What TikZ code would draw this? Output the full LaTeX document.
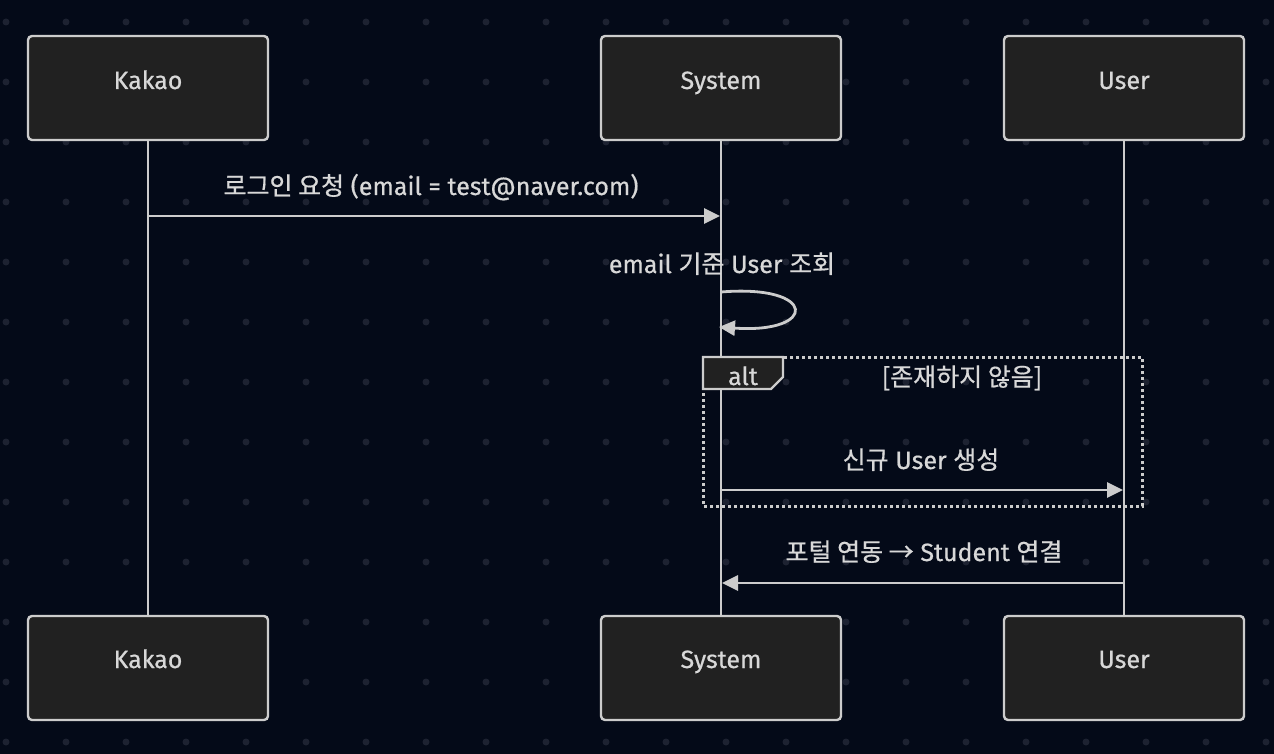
\documentclass[tikz,border=0pt]{standalone}
\usepackage{fontspec}
\setmainfont{Fira Sans}[FakeBold=0.6]
\newfontfamily\kr{Noto Sans CJK KR}[FakeBold=0.6]
\usetikzlibrary{arrows.meta}
\definecolor{bg}{HTML}{040A18}
\definecolor{dotc}{HTML}{1D2231}
\definecolor{boxfill}{HTML}{212121}
\definecolor{linec}{HTML}{CCCCCC}
\definecolor{txt}{HTML}{D8D8D8}
\begin{document}
\begin{tikzpicture}[x=1pt,y=-1pt,
  actor/.style={draw=linec,fill=boxfill,line width=2.4pt,rounded corners=4pt,minimum width=240pt,minimum height=104pt,inner sep=0pt},
  atext/.style={text=txt,font=\fontsize{25}{28}\selectfont,inner sep=0pt,anchor=base},
  life/.style={draw=linec,line width=2.8pt},
  msg/.style={draw=linec,line width=2.8pt,-{Triangle[length=16pt,width=15pt]}},
  lbl/.style={text=txt,font=\fontsize{25}{28}\selectfont,inner sep=0pt,anchor=base}]
\useasboundingbox (0,0) rectangle (1274,754);
\fill[bg] (0,0) rectangle (1274,754);
\foreach \i in {0,...,21} \foreach \j in {0,...,12} \fill[dotc] (6+60*\i,22+60*\j) circle (3.5pt);
% actors
\node[actor] (kt) at (148,88) {};
\node[actor] (st) at (721,88) {};
\node[actor] (ut) at (1124,88) {};
\node[actor] (kb) at (148,668) {};
\node[actor] (sb) at (721,668) {};
\node[actor] (ub) at (1124,668) {};
\node[atext] (ktt) at (148,89) {Kakao};
\node[atext] (stt) at (721,89) {System};
\node[atext] (utt) at (1124,89) {User};
\node[atext] (kbt) at (148,668) {Kakao};
\node[atext] (sbt) at (721,668) {System};
\node[atext] (ubt) at (1124,668) {User};
\draw[life] (kt) -- (kb);
\draw[life] (st) -- (sb);
\draw[life] (ut) -- (ub);
% message 1
\coordinate (m1a) at (148,216);
\coordinate (m1b) at (720,216);
\draw[msg] (m1a) -- (m1b);
\node[lbl] (l1) at (431,195) {{\kr 로그인 요청} (email = test@naver.com)};
% self message
\coordinate (s1) at (721,292);
\coordinate (s2) at (719,327);
\node[lbl] (l2) at (722,273) {email {\kr 기준} User {\kr 조회}};
\draw[msg] (s1) .. controls (818,284) and (818,334) .. (s2);
% alt box
\coordinate (altA) at (703,357);
\coordinate (altB) at (1142,506);
\draw[linec,line width=3pt,dash pattern=on 3pt off 3pt] (altA) rectangle (altB);
\draw[linec,line width=2.2pt,fill=boxfill] (703,357) -- (783,357) -- (783,377) -- (771,389) -- (703,389) -- cycle;
\node[lbl] (alt) at (743,385) {alt};
\node[lbl] (cond) at (962,386) {\kr [존재하지 않음]};
% message 2
\coordinate (m2a) at (721,490);
\coordinate (m2b) at (1123,490);
\draw[msg] (m2a) -- (m2b);
\node[lbl] (l3) at (921,469) {{\kr 신규} User {\kr 생성}};
% message 3
\coordinate (m3a) at (1124,583);
\coordinate (m3b) at (722,583);
\draw[msg] (m3a) -- (m3b);
\node[lbl] (l4) at (924,561) {{\kr 포털 연동 →} Student {\kr 연결}};
\end{tikzpicture}
\end{document}
